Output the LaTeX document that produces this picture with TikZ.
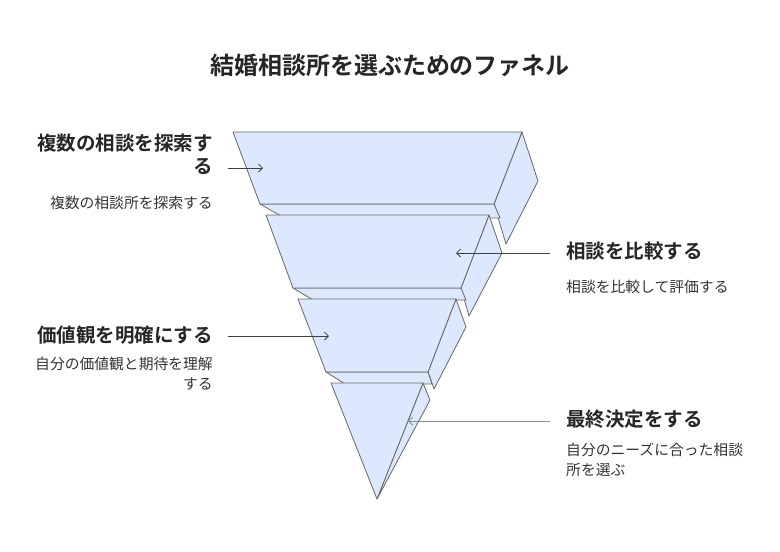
\documentclass[tikz,border=0pt]{standalone}
\usepackage{fontspec}
\setmainfont{Noto Sans CJK JP}
\newfontfamily\boldjp{Noto Sans CJK JP Bold}
\definecolor{funnel}{RGB}{220,232,253}
\begin{document}
\begin{tikzpicture}[x=1pt,y=-1pt,
  face/.style={fill=funnel, draw=gray!80!black, line width=0.8pt, line join=round},
  arr/.style={draw=black!75, line width=0.8pt, ->, >={Straight Barb[length=4pt,width=8pt]}},
  ttl/.style={font=\boldjp\fontsize{24}{28}\selectfont, text=black!85},
  lab/.style={font=\boldjp\fontsize{19.5}{23}\selectfont, text=black!85, align=right},
  sub/.style={font=\fontsize{14.8}{20}\selectfont, text=black!80}]
\usetikzlibrary{arrows.meta}
\useasboundingbox (0,0) rectangle (780,552);
\node[ttl] (title) at (390,65) {結婚相談所を選ぶためのファネル};
% segment 1
\draw[face] (522,132)--(538,181)--(506,244)--(494,204)--cycle;
\draw[face] (260,204)--(494,204)--(500,218)--(281,216)--cycle;
\draw[face] (233,132)--(522,132)--(494,204)--(260,204)--cycle;
% segment 2
\draw[face] (489,215)--(502,253)--(469,316)--(461,288)--cycle;
\draw[face] (293,288)--(461,288)--(466,300)--(313,300)--cycle;
\draw[face] (266,215)--(489,215)--(461,288)--(293,288)--cycle;
% segment 3
\draw[face] (456,299)--(466,327)--(434,389)--(428,372)--cycle;
\draw[face] (326,372)--(428,372)--(432,384)--(345,384)--cycle;
\draw[face] (298,299)--(456,299)--(428,372)--(326,372)--cycle;
% segment 4
\draw[face] (423,383)--(430,400)--(377,499)--cycle;
\draw[face] (331,383)--(423,383)--(377,499)--cycle;
\coordinate (t1) at (263,168);
\coordinate (t2) at (456,253);
\coordinate (t3) at (329,336);
\coordinate (t4) at (408,421);
\coordinate (s1) at (228,168);
\coordinate (s2) at (550,253);
\coordinate (s3) at (228,336);
\coordinate (s4) at (550,421);
\draw[arr] (s1)--(t1);
\draw[arr] (s2)--(t2);
\draw[arr] (s3)--(t3);
\draw[arr, draw=black!45] (s4)--(t4);
\node[lab, anchor=north east, inner sep=0pt] (l1) at (213,134) {複数の相談を探索す\\る};
\node[sub, anchor=east, inner sep=0pt] (d1) at (213,203) {複数の相談所を探索する};
\node[lab, anchor=west, inner sep=0pt] (l2) at (566,251) {相談を比較する};
\node[sub, anchor=west, inner sep=0pt] (d2) at (566,287) {相談を比較して評価する};
\node[lab, anchor=east, inner sep=0pt] (l3) at (213,335) {価値観を明確にする};
\node[sub, anchor=north east, align=right, inner sep=0pt] (d3) at (213,357) {自分の価値観と期待を理解\\する};
\node[lab, anchor=west, inner sep=0pt] (l4) at (566,419) {最終決定をする};
\node[sub, anchor=north west, align=left, inner sep=0pt] (d4) at (566,443) {自分のニーズに合った相談\\所を選ぶ};
\end{tikzpicture}
\end{document}
